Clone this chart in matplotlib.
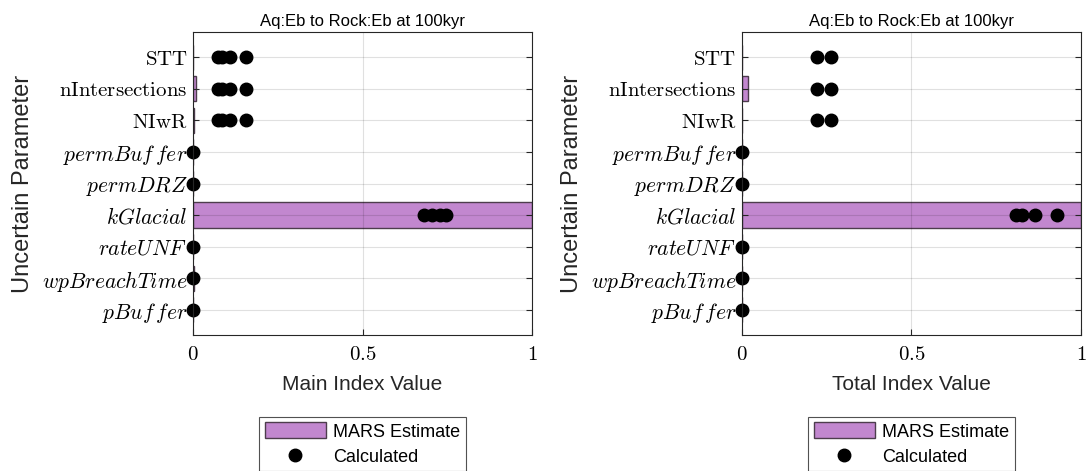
import matplotlib
matplotlib.use("Agg")
import matplotlib.pyplot as plt
from matplotlib.patches import Patch
from matplotlib.lines import Line2D

plt.rcParams["mathtext.fontset"] = "cm"
plt.rcParams["font.family"] = ["Liberation Sans", "DejaVu Sans"]

# Parameters, listed top to bottom
params = [r"$\mathrm{STT}$", r"$\mathrm{nIntersections}$", r"$\mathrm{NIwR}$",
          r"$permBuf\,fer$", r"$permDRZ$", r"$kGlacial$", r"$rateUNF$",
          r"$wpBreachTime$", r"$pBuf\,fer$"]
italic = [False, False, False, True, True, True, True, True, True]

mars_main = [0.0, 0.008, 0.003, 0.0, 0.0, 1.0, 0.0, 0.002, 0.0]
mars_total = [0.0, 0.018, 0.0, 0.0, 0.0, 1.0, 0.0, 0.0, 0.0]

calc_main = [
    [0.075, 0.085, 0.11, 0.155],
    [0.075, 0.085, 0.11, 0.155],
    [0.075, 0.085, 0.11, 0.155],
    [0.0], [0.0],
    [0.68, 0.705, 0.73, 0.745],
    [0.0], [0.0], [0.0],
]
calc_total = [
    [0.222, 0.262],
    [0.222, 0.262],
    [0.222, 0.262],
    [0.0], [0.0],
    [0.807, 0.826, 0.864, 0.93],
    [0.0], [0.0], [0.0],
]

title = "Aq:Eb to Rock:Eb at 100kyr"
xlabels = ["Main Index Value", "Total Index Value"]
xticks = [0, 0.5, 1]
xticklabels = [r"$0$", r"$0.5$", r"$1$"]

bar_face = (0.76, 0.53, 0.81)
bar_edge = (0.30, 0.24, 0.30)

fig = plt.figure(figsize=(10.86, 4.71), dpi=100)
lefts = [0.1777, 0.6832]

for left, mars, calc, xl in zip(lefts, [mars_main, mars_total],
                                [calc_main, calc_total], xlabels):
    ax = fig.add_axes([left, 0.2887, 0.3122, 0.6433])
    n = len(params)
    ypos = [n - i for i in range(n)]
    ax.barh(ypos, mars, height=0.8, color=bar_face, edgecolor=bar_edge,
            linewidth=1.0, zorder=1)
    for y, vals in zip(ypos, calc):
        ax.plot(vals, [y] * len(vals), "o", color="black", ms=9,
                clip_on=False, zorder=5)
    ax.set_xlim(0, 1)
    ax.set_ylim(0.2, n + 0.8)
    ax.set_yticks(ypos)
    ax.set_yticklabels(params, fontsize=15)
    for lab, it in zip(ax.get_yticklabels(), italic):
        if it:
            lab.set_fontsize(15.5)
    ax.set_xticks(xticks)
    ax.set_xticklabels(xticklabels, fontsize=15)
    ax.tick_params(axis="both", direction="in", length=4, color="#262626",
                   right=True, top=False, pad=4)
    ax.tick_params(axis="x", pad=7)
    ax.grid(True, color="black", alpha=0.12, linewidth=0.8, zorder=2)
    ax.set_axisbelow(False)
    for s in ax.spines.values():
        s.set_color("#262626")
        s.set_linewidth(0.8)
        s.set_zorder(6)
    ax.set_title(title, fontsize=12, pad=4)
    ax.set_xlabel(xl, fontsize=15, color="#262626", labelpad=8)
    ax.set_ylabel("Uncertain Parameter", fontsize=17, color="#262626",
                  labelpad=6)
    handles = [Patch(facecolor=bar_face, edgecolor=bar_edge, linewidth=1.0),
               Line2D([], [], marker="o", color="black", ls="none", ms=9)]
    leg = ax.legend(handles, ["MARS Estimate", "Calculated"],
                    loc="upper center", bbox_to_anchor=(0.5, -0.27),
                    fontsize=13, frameon=True, fancybox=False,
                    edgecolor="#262626", handlelength=3.4, handleheight=1.0,
                    borderpad=0.3, labelspacing=0.4, handletextpad=0.4,
                    borderaxespad=0)
    leg.get_frame().set_linewidth(0.8)

fig.savefig("out.png", dpi=100)
